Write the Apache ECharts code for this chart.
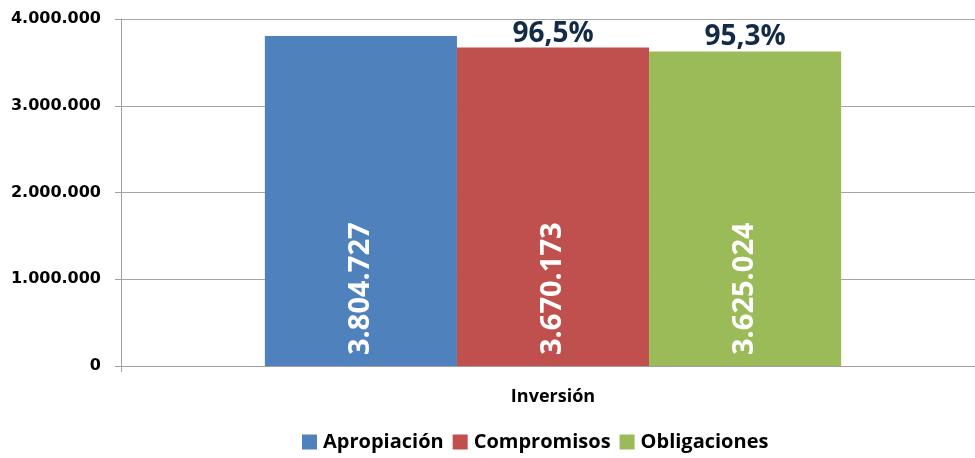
<!DOCTYPE html>
<html>
<head>
<meta charset="utf-8">
<script src="https://cdn.jsdelivr.net/npm/echarts@6/dist/echarts.min.js"></script>
<style>
  html, body { margin: 0; padding: 0; background: #fff; }
  #chart { width: 975px; height: 458px; }
</style>
</head>
<body>
<div id="chart"></div>
<script>
const categories = ['Inversión']
const seriesNames = ['Apropiación', 'Compromisos', 'Obligaciones']
const apropiacion = [3804727]
const compromisos = [3670173]
const obligaciones = [3625024]
const percentLabels = ['96,5%', '95,3%'] // compromisos, obligaciones
const yTicks = [0, 1000000, 2000000, 3000000, 4000000]

const colors = ['#4F81BD', '#C0504D', '#9BBB59']
const fmt = v => String(v).replace(/\B(?=(\d{3})+(?!\d))/g, '.')

const chart = echarts.init(document.getElementById('chart'))

const insideLabel = {
  show: true,
  position: 'insideBottom',
  rotate: 90,
  align: 'left',
  verticalAlign: 'middle',
  distance: 11,
  color: '#fff',
  fontFamily: 'Open Sans',
  fontWeight: 'bold',
  fontSize: 29,
  formatter: p => fmt(p.value)
}

// zero-height bars stacked on top, only used to carry the percentage label
const pctSeries = (stack, text) => ({
  type: 'bar',
  stack: stack,
  data: categories.map(() => 0),
  itemStyle: { color: 'transparent' },
  silent: true,
  label: {
    show: true,
    position: 'top',
    distance: 0,
    color: '#132B47',
    fontFamily: 'Open Sans',
    fontWeight: 'bold',
    fontSize: 28,
    formatter: () => text
  }
})

chart.setOption({
  animation: false,
  color: colors,
  // plot area runs a bit past the right edge of the picture
  grid: { left: 121, width: 864, top: 19, bottom: 92, outerBoundsMode: 'none' },
  legend: {
    bottom: 1,
    left: 297,
    icon: 'rect',
    itemWidth: 15,
    itemHeight: 15,
    itemGap: 9,
    data: seriesNames,
    textStyle: {
      fontFamily: 'Open Sans',
      fontWeight: 'bold',
      fontSize: 20,
      color: '#000',
      padding: [0, 0, 0, 1]
    }
  },
  xAxis: {
    type: 'category',
    data: categories,
    axisLine: { lineStyle: { color: '#A0A0A0' } },
    axisTick: { show: true, length: 6, lineStyle: { color: '#A0A0A0' } },
    axisLabel: {
      margin: 22,
      color: '#000',
      fontFamily: 'Open Sans',
      fontWeight: 'bold',
      fontSize: 18
    }
  },
  yAxis: {
    type: 'value',
    min: yTicks[0],
    max: yTicks[yTicks.length - 1],
    interval: 1000000,
    axisLine: { show: true, lineStyle: { color: '#A0A0A0' } },
    axisTick: { show: true, length: 6, lineStyle: { color: '#A0A0A0' } },
    splitLine: { lineStyle: { color: '#A6A6A6' } },
    axisLabel: {
      margin: 20,
      color: '#000',
      fontFamily: 'DejaVu Sans',
      fontWeight: 'bold',
      fontSize: 16,
      formatter: v => fmt(v)
    }
  },
  series: [
    {
      name: seriesNames[0], type: 'bar', stack: 'a',
      barGap: '0%', barCategoryGap: '33.3%',
      data: apropiacion, label: insideLabel
    },
    {
      name: seriesNames[1], type: 'bar', stack: 'b',
      data: compromisos, label: insideLabel
    },
    pctSeries('b', percentLabels[0]),
    {
      name: seriesNames[2], type: 'bar', stack: 'c',
      data: obligaciones, label: insideLabel
    },
    pctSeries('c', percentLabels[1])
  ]
})
</script>
</body>
</html>
